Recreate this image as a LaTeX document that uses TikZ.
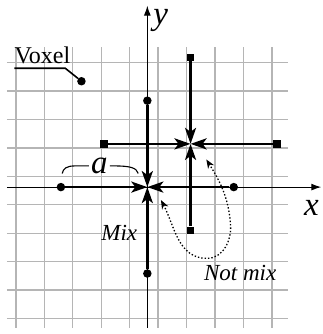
\documentclass[tikz,border=0pt]{standalone}
\usepackage{fontspec}
\setmainfont{Liberation Serif}
\usetikzlibrary{arrows.meta}

\begin{document}
\begin{tikzpicture}[x=21.6pt,y=21.6pt,>=Latex,
 gridline/.style={draw=black!29,line width=1.4pt},
 axis/.style={->,line width=1.1pt,>={Latex[length=10pt,width=7pt]}},
 push/.style={->,line width=2.6pt,>={Stealth[length=16pt,width=11pt,inset=4pt]}},
 notmix/.style={<->,line width=1.3pt,dash pattern=on 1.4pt off 2pt,>={Stealth[length=9pt,width=7pt]}},
 dotpt/.style={circle,fill,inner sep=0pt,minimum size=8.5pt},
 sqpt/.style={rectangle,fill,inner sep=0pt,minimum size=7.5pt},
 lab/.style={font=\fontsize{33}{35}\selectfont\itshape,inner sep=2pt},
 note/.style={font=\fontsize{23}{25}\selectfont\itshape,inner sep=0pt}]
\useasboundingbox (-6.82,-6.8) rectangle (8.1,8.66);
% voxel grid
\draw[gridline,shift={(0.5,0.5)}] (-7,-7) grid (6,6);
% axes
\coordinate (xl) at (-6.5,0); \coordinate (xr) at (8.05,0);
\coordinate (yb) at (0,-6.5); \coordinate (yt) at (0,8.4);
\draw[axis] (xl) -- (xr);
\draw[axis] (yb) -- (yt);
\node[lab] (xlab) at (7.6,-0.95) {x};
\node[lab] (ylab) at (0.62,7.7) {y};
% mixing point at the origin
\coordinate (o) at (0,0);
\node[dotpt] (pl) at (-4,0) {};
\node[dotpt] (pr) at (4,0) {};
\node[dotpt] (pt) at (0,4) {};
\node[dotpt] (pb) at (0,-4) {};
\draw[push] (pl) -- (o); \draw[push] (pr) -- (o);
\draw[push] (pt) -- (o); \draw[push] (pb) -- (o);
% point off the voxel centres
\coordinate (c) at (2,2);
\node[sqpt] (ql) at (-2,2) {};
\node[sqpt] (qr) at (6,2) {};
\node[sqpt] (qt) at (2,6) {};
\node[sqpt] (qb) at (2,-2) {};
\draw[push] (ql) -- (c); \draw[push] (qr) -- (c);
\draw[push] (qt) -- (c); \draw[push] (qb) -- (c);
% distance a
\node[lab] (alab) at (-2.22,1.0) {a};
\coordinate (al) at (-3.94,0.63); \coordinate (ar) at (-0.42,0.63);
\draw[line width=1.1pt] (al) .. controls (-3.9,0.88) and (-3.7,0.98) .. (-3.35,0.98) -- (alab.west |- 0,0.98);
\draw[line width=1.1pt] (alab.east |- 0,0.98) -- (-1.55,0.98) .. controls (-0.8,0.98) and (-0.5,0.9) .. (ar);
% voxel label
\node[dotpt] (vox) at (-3.05,4.9) {};
\node[font=\fontsize{24}{26}\selectfont,anchor=base west,inner sep=0pt] (voxlab) at (-6.15,5.72) {Voxel};
\coordinate (vk) at (-3.8,5.5);
\draw[line width=1.6pt] (voxlab.west |- vk) -- (vk) -- (vox);
% mix / not mix
\node[note] (mix) at (-1.3,-2.1) {Mix};
\node[note] (nmix) at (4.3,-3.98) {Not mix};
\coordinate (m1) at (0.63,-0.6);
\coordinate (m2) at (2.76,-3.3);
\coordinate (m3) at (3.85,-1.7);
\coordinate (m4) at (2.73,1.28);
\draw[notmix] (m1) to[out=-62,in=180] (m2) to[out=0,in=-85] (m3) to[out=95,in=-58] (m4);
\end{tikzpicture}
\end{document}
